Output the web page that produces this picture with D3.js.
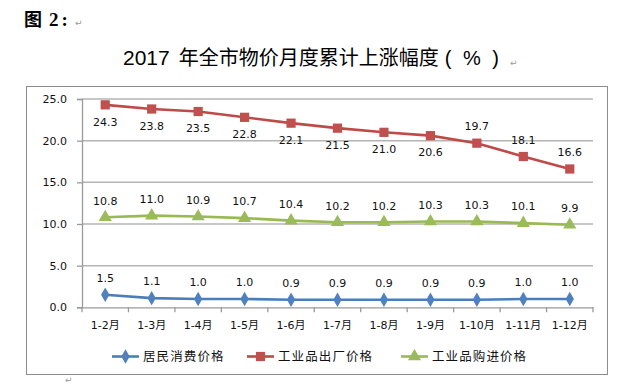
<!DOCTYPE html>
<html><head><meta charset="utf-8">
<script src="https://cdn.jsdelivr.net/npm/d3@7"></script>
<style>body{margin:0;background:#fff}svg{display:block}</style>
</head><body>
<script>
const categories = ["1-2月","1-3月","1-4月","1-5月","1-6月","1-7月","1-8月","1-9月","1-10月","1-11月","1-12月"];
const cpi = [1.5,1.1,1.0,1.0,0.9,0.9,0.9,0.9,0.9,1.0,1.0];
const ppi = [24.3,23.8,23.5,22.8,22.1,21.5,21.0,20.6,19.7,18.1,16.6];
const ppiIn = [10.8,11.0,10.9,10.7,10.4,10.2,10.2,10.3,10.3,10.1,9.9];
const seriesNames = ["居民消费价格","工业品出厂价格","工业品购进价格"];
const yTicks = [0,5,10,15,20,25];
const ppiLabelAbove = [false,false,false,false,false,false,false,false,true,true,true];

const W=644,H=391;
const svg=d3.select("body").append("svg").attr("width",W).attr("height",H);
const numFont="'DejaVu Sans','Noto Sans CJK SC',sans-serif";

// heading
svg.append("text").attr("x",24).attr("y",26).attr("font-family","'Noto Sans CJK SC',sans-serif")
  .attr("font-weight","bold").attr("font-size",18).attr("fill","#000").text("图");
svg.append("text").attr("x",49).attr("y",26).attr("font-family","'Liberation Serif',serif")
  .attr("font-weight","bold").attr("font-size",19).attr("letter-spacing",3).attr("fill","#000").text("2:");
svg.append("text").attr("x",75).attr("y",26).attr("font-size",9).attr("fill","#999").attr("font-family","DejaVu Sans").text("↵");

const title=svg.append("text").attr("x",123).attr("y",65)
  .attr("font-family","'Liberation Sans','Noto Sans CJK SC',sans-serif").attr("font-size",20).attr("fill","#000");
title.append("tspan").attr("font-size",21).text("2017");
title.append("tspan").attr("font-family","'Noto Sans CJK SC',sans-serif").attr("dx",9).text("年全市物价月度累计上涨幅度");
title.append("tspan").attr("dx",6).attr("letter-spacing",3).text("( % )");
svg.append("text").attr("x",510).attr("y",66).attr("font-size",9).attr("fill","#999").attr("font-family","DejaVu Sans").text("↵");
svg.append("text").attr("x",65).attr("y",383).attr("font-size",9).attr("fill","#999").attr("font-family","DejaVu Sans").text("↵");

// chart box
svg.append("rect").attr("x",26.5).attr("y",86.5).attr("width",581).attr("height",288).attr("fill","#fff").attr("stroke","#8c8c8c").attr("stroke-width",1);

const x=d3.scaleBand().domain(categories).range([82,593]);
const y=d3.scaleLinear().domain([0,25]).range([307.3,99]);
const cx=c=>x(c)+x.bandwidth()/2;

// gridlines
svg.append("g").selectAll("line").data(yTicks.filter(v=>v>0)).join("line")
  .attr("x1",82).attr("x2",593).attr("y1",d=>y(d)).attr("y2",d=>y(d))
  .attr("stroke","#b4b4b4").attr("stroke-width",1.5);

// y axis
const yAxis=svg.append("g").attr("transform","translate(82,0)")
  .call(d3.axisLeft(y).tickValues(yTicks).tickFormat(d3.format(".1f")).tickSize(5).tickPadding(10));
yAxis.select(".domain").attr("stroke","#9a9a9a").attr("stroke-width",1.3);
yAxis.selectAll(".tick line").attr("stroke","#9a9a9a").attr("stroke-width",1.3);
yAxis.selectAll("text").attr("font-family",numFont).attr("font-size",11).attr("fill","#111");

// x axis
const xAxis=svg.append("g").attr("transform",`translate(0,${y(0)})`)
  .call(d3.axisBottom(x).tickSize(0).tickPadding(14));
xAxis.select(".domain").attr("stroke","#9a9a9a").attr("stroke-width",1.3);
xAxis.selectAll("text").attr("font-family",numFont).attr("font-size",11).attr("fill","#111");
const bounds=categories.map(c=>x(c)).concat([x.range()[1]]);
svg.append("g").selectAll("line").data(bounds).join("line")
  .attr("x1",d=>d).attr("x2",d=>d).attr("y1",y(0)).attr("y2",y(0)+5)
  .attr("stroke","#9a9a9a").attr("stroke-width",1.3);

const colors=["#4a7ebb","#be4b48","#98b954"];
const markerColors=["#4f81bd","#c0504d","#9bbb59"];
const sym=[d3.symbolDiamond,d3.symbolSquare,d3.symbolTriangle];
const symSize=[60,85,75];
const allSeries=[cpi,ppi,ppiIn];
const line=d3.line().x((d,i)=>cx(categories[i])).y(d=>y(d));

allSeries.forEach((s,k)=>{
  const g=svg.append("g");
  g.append("path").attr("d",line(s)).attr("fill","none").attr("stroke",colors[k]).attr("stroke-width",2.6);
  g.selectAll("path.m").data(s).join("path").attr("class","m")
    .attr("transform",(d,i)=>`translate(${cx(categories[i])},${y(d)})`)
    .attr("d",d3.symbol().type(sym[k]).size(symSize[k])).attr("fill",markerColors[k]);
  g.selectAll("text").data(s).join("text")
    .attr("x",(d,i)=>cx(categories[i]))
    .attr("y",(d,i)=>{
      const below = k===1 && !ppiLabelAbove[i];
      return y(d)+(below?16.7:-16.7)+4;
    })
    .attr("text-anchor","middle").attr("font-family",numFont).attr("font-size",11).attr("fill","#111")
    .text(d=>d3.format(".1f")(d));
});

// legend
const legX=[112,247,401];
const lg=svg.append("g");
seriesNames.forEach((n,k)=>{
  const lx=legX[k], ly=356.5;
  lg.append("line").attr("x1",lx).attr("x2",lx+27).attr("y1",ly).attr("y2",ly).attr("stroke",colors[k]).attr("stroke-width",2.6);
  lg.append("path").attr("transform",`translate(${lx+13.5},${ly})`).attr("d",d3.symbol().type(sym[k]).size(symSize[k])).attr("fill",markerColors[k]);
  lg.append("text").attr("x",lx+31).attr("y",ly+4.5).attr("font-family","'Noto Sans CJK SC',sans-serif")
    .attr("font-size",12.5).attr("letter-spacing",1.1).attr("fill","#111").text(n);
});
</script>
</body></html>
